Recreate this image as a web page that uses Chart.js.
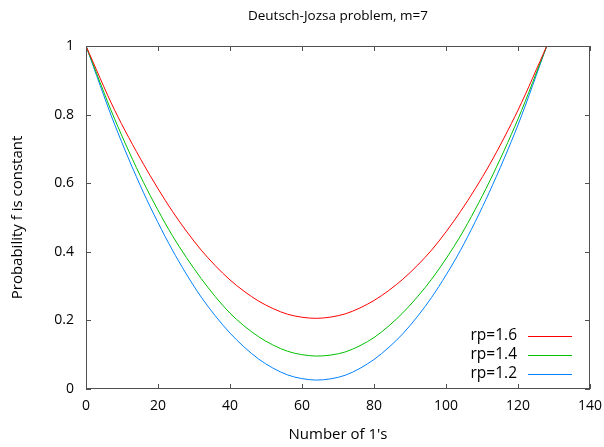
<!DOCTYPE html>
<html>
<head>
<meta charset="utf-8">
<script src="https://cdn.jsdelivr.net/npm/chart.js@4/dist/chart.umd.min.js"></script>
<style>
html,body{margin:0;padding:0;background:#fff;}
#wrap{width:604px;height:447px;position:relative;}
</style>
</head>
<body>
<div id="wrap"><canvas id="c" width="604" height="447"></canvas></div>
<script>
const titleText = "Deutsch-Jozsa problem, m=7";
const xTitle = "Number of 1's";
const yTitle = "Probability f is constant";
const ones = [0, 8, 16, 24, 32, 40, 48, 56, 64, 72, 80, 88, 96, 104, 112, 120, 128];
const rp16 = [1, 0.812, 0.655, 0.518, 0.405, 0.318, 0.256, 0.218, 0.206, 0.219, 0.258, 0.320, 0.405, 0.517, 0.652, 0.813, 1];
const rp14 = [1, 0.786, 0.602, 0.447, 0.322, 0.221, 0.152, 0.110, 0.096, 0.108, 0.150, 0.222, 0.320, 0.446, 0.603, 0.787, 1];
const rp12 = [1, 0.770, 0.572, 0.405, 0.268, 0.163, 0.087, 0.041, 0.026, 0.040, 0.086, 0.161, 0.267, 0.404, 0.573, 0.770, 1];
const seriesLabels = ["rp=1.6", "rp=1.4", "rp=1.2"];
const xTicks = [0, 20, 40, 60, 80, 100, 120, 140];
const yTicks = [0, 0.2, 0.4, 0.6, 0.8, 1];

const FONT = "'Open Sans', 'Noto Sans', sans-serif";
const TXT = '#000';
const colors = ["#ff0000", "#00c000", "#0080ff"];
const toPts = arr => ones.map((x, i) => ({x: x, y: arr[i]}));

const decor = {
  id: 'decor',
  afterDraw(chart) {
    const ctx = chart.ctx, a = chart.chartArea;
    const xs = chart.scales.x, ys = chart.scales.y;
    ctx.save();
    ctx.strokeStyle = '#505050';
    ctx.lineWidth = 1;
    ctx.strokeRect(Math.round(a.left) + 0.5, Math.round(a.top) + 0.5, Math.round(a.right - a.left) - 1, Math.round(a.bottom - a.top) - 1);
    ctx.beginPath();
    xTicks.forEach(v => {
      const px = Math.round(xs.getPixelForValue(v)) + 0.5;
      ctx.moveTo(px, a.bottom); ctx.lineTo(px, a.bottom - 5);
      ctx.moveTo(px, a.top); ctx.lineTo(px, a.top + 5);
    });
    yTicks.forEach(v => {
      const py = Math.round(ys.getPixelForValue(v)) + 0.5;
      ctx.moveTo(a.left, py); ctx.lineTo(a.left + 5, py);
      ctx.moveTo(a.right, py); ctx.lineTo(a.right - 5, py);
    });
    ctx.stroke();
    ctx.fillStyle = TXT;
    ctx.font = "500 13.5px " + FONT;
    ctx.textAlign = 'center';
    ctx.textBaseline = 'middle';
    ctx.fillText(titleText, (a.left + a.right) / 2, 16);
    ctx.font = "500 15px " + FONT;
    ctx.fillText(xTitle, (a.left + a.right) / 2, 435);
    ctx.save();
    ctx.translate(18, (a.top + a.bottom) / 2);
    ctx.rotate(-Math.PI / 2);
    ctx.fillText(yTitle, 0, 0);
    ctx.restore();
    const rows = [336, 355, 374];
    chart.data.datasets.forEach((ds, i) => {
      ctx.textAlign = 'right';
      ctx.fillStyle = TXT;
      ctx.font = "500 15.5px " + FONT;
      ctx.fillText(ds.label, 517, rows[i]);
      ctx.strokeStyle = ds.borderColor;
      ctx.lineWidth = 1;
      ctx.beginPath();
      ctx.moveTo(528, rows[i] + 0.5);
      ctx.lineTo(572, rows[i] + 0.5);
      ctx.stroke();
    });
    ctx.restore();
  }
};

new Chart(document.getElementById('c'), {
  type: 'line',
  data: {
    datasets: [rp16, rp14, rp12].map((arr, i) => ({
      label: seriesLabels[i],
      data: toPts(arr),
      borderColor: colors[i],
      backgroundColor: colors[i],
      borderWidth: 1,
      pointRadius: 0,
      fill: false,
      tension: 0.3
    }))
  },
  options: {
    responsive: false,
    animation: false,
    events: [],
    layout: {padding: {top: 46, right: 14, left: 0, bottom: 0}},
    plugins: {legend: {display: false}, title: {display: false}, tooltip: {enabled: false}},
    scales: {
      x: {
        type: 'linear', min: 0, max: 140,
        afterBuildTicks: s => { s.ticks = xTicks.map(v => ({value: v})); },
        afterFit: s => { s.height = 58; s.paddingLeft = 0; s.paddingRight = 0; },
        grid: {display: false, drawTicks: false},
        border: {display: false},
        ticks: {padding: 9, color: TXT, font: {family: FONT, size: 14, weight: '500'}, maxRotation: 0, callback: v => String(v)}
      },
      y: {
        type: 'linear', min: 0, max: 1,
        afterBuildTicks: s => { s.ticks = yTicks.map(v => ({value: v})); },
        afterFit: s => { s.width = 86; s.paddingTop = 0; s.paddingBottom = 0; },
        grid: {display: false, drawTicks: false},
        border: {display: false},
        ticks: {padding: 12, color: TXT, font: {family: FONT, size: 14, weight: '500'}, callback: v => String(v)}
      }
    }
  },
  plugins: [decor]
});
</script>
</body>
</html>
